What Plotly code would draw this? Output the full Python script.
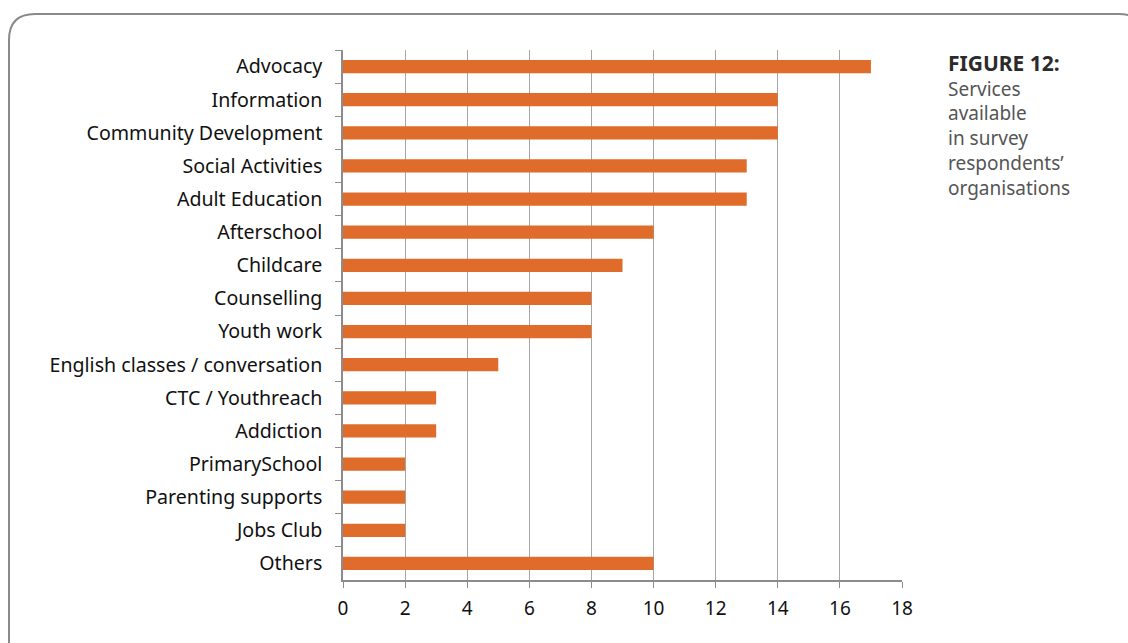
import plotly.graph_objects as go

# Services offered by survey respondents' organisations
services = [
    "Advocacy", "Information", "Community Development", "Social Activities",
    "Adult Education", "Afterschool", "Childcare", "Counselling", "Youth work",
    "English classes / conversation", "CTC / Youthreach", "Addiction",
    "PrimarySchool", "Parenting supports", "Jobs Club", "Others",
]
counts = [17, 14, 14, 13, 13, 10, 9, 8, 8, 5, 3, 3, 2, 2, 2, 10]
x_ticks = [0, 2, 4, 6, 8, 10, 12, 14, 16, 18]

W, H = 1128, 643
ML, MR, MT, MB = 343, W - 902, 50, H - 580
PW, PH = W - ML - MR, H - MT - MB


def px(x):
    return (x - ML) / PW


def py(y):
    return (H - MB - y) / PH


# rounded frame around the figure
x0, x1, y0, y1, r = 9, 1145, 14, 656, 26
frame = (
    f"M {px(x0)},{py(y1)} "
    f"L {px(x0)},{py(y0 + r)} "
    f"Q {px(x0)},{py(y0)} {px(x0 + r)},{py(y0)} "
    f"L {px(x1 - r)},{py(y0)} "
    f"Q {px(x1)},{py(y0)} {px(x1)},{py(y0 + r)} "
    f"L {px(x1)},{py(y1)}"
)

fig = go.Figure(
    go.Bar(
        x=counts,
        y=services,
        orientation="h",
        width=0.4,
        marker=dict(color="#E06C2B", line=dict(width=0)),
        hoverinfo="x+y",
    )
)

font = "'Noto Sans', 'Open Sans', sans-serif"
fig.update_layout(
    width=W,
    height=H,
    margin=dict(l=ML, r=MR, t=MT, b=MB),
    paper_bgcolor="white",
    plot_bgcolor="white",
    showlegend=False,
    bargap=0.6,
    font=dict(family=font, size=18, color="#111111"),
    xaxis=dict(
        range=[0, 18],
        tickvals=x_ticks,
        showgrid=True,
        gridcolor="#a6a6a6",
        gridwidth=1,
        showline=True,
        linecolor="#8c8c8c",
        linewidth=1.5,
        ticks="outside",
        ticklen=6,
        tickcolor="#8c8c8c",
        ticklabelstandoff=4,
        tickfont=dict(size=19, color="#111111"),
        zeroline=False,
        fixedrange=True,
    ),
    yaxis=dict(
        categoryorder="array",
        categoryarray=services,
        autorange="reversed",
        showline=True,
        linecolor="#8c8c8c",
        linewidth=1.5,
        ticks="outside",
        tickson="boundaries",
        ticklen=6,
        tickcolor="#8c8c8c",
        ticklabelstandoff=15,
        tickfont=dict(size=19.6, color="#111111"),
        showgrid=False,
        fixedrange=True,
    ),
    shapes=[
        dict(
            type="path",
            xref="paper",
            yref="paper",
            path=frame,
            line=dict(color="#8a8a8a", width=2),
            layer="above",
        )
    ],
    annotations=[
        dict(
            xref="paper",
            yref="paper",
            x=px(946),
            y=py(47),
            xanchor="left",
            yanchor="top",
            align="left",
            showarrow=False,
            text=(
                "<b><span style='color:#2b2b2b;font-size:21px'>FIGURE 12:</span></b><br>"
                "Services<br>available<br>in survey<br>respondents’<br>organisations"
            ),
            font=dict(family="'Noto Sans', sans-serif", size=19, color="#555555"),
        )
    ],
)

fig.write_html("out.html")
